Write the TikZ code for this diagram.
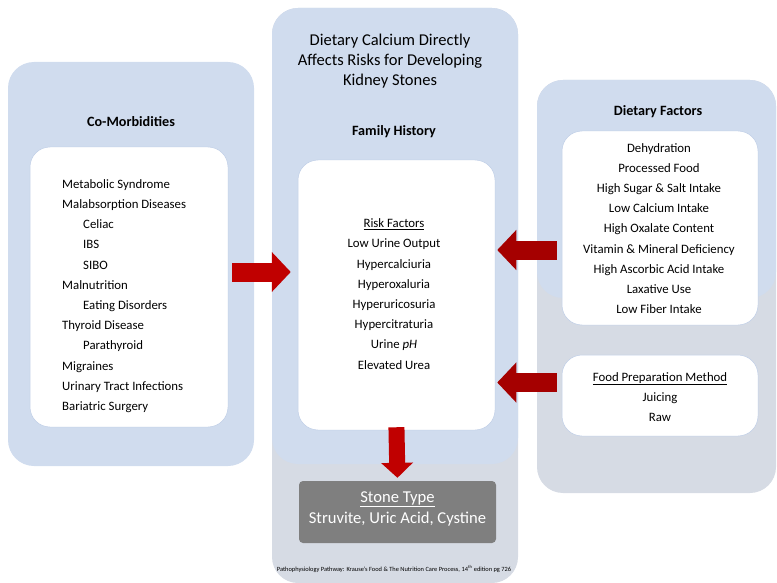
\documentclass[tikz,border=0pt]{standalone}
\usepackage{fontspec}
\setmainfont{Carlito}
\usetikzlibrary{arrows.meta}
\definecolor{panelblue}{RGB}{208,220,238}
\definecolor{panelgray}{RGB}{214,219,228}
\definecolor{boxedge}{RGB}{190,205,230}
\definecolor{arrowred}{RGB}{192,0,0}
\definecolor{arrowdark}{RGB}{165,0,0}
\definecolor{stonegray}{RGB}{127,127,127}
\tikzset{
  bluepanel/.style={fill=panelblue, draw=none, rounded corners=26pt, inner sep=0pt},
  graypanel/.style={fill=panelgray, draw=none, rounded corners=26pt, inner sep=0pt},
  whitebox/.style={fill=white, draw=boxedge, line width=0.5pt, rounded corners=20pt, inner sep=0pt},
  listtext/.style={font=\fontsize{12.8}{20.2}\selectfont, inner sep=0pt},
  headtext/.style={font=\fontsize{14.2}{16}\selectfont\bfseries, inner sep=0pt},
  redarrow/.style={draw=arrowred, line width=19pt, -{Triangle[length=19pt,width=39pt]}},
  darkarrow/.style={draw=arrowdark, line width=19pt, -{Triangle[length=19pt,width=39pt]}},
  downarrow/.style={draw=arrowred, line width=16pt, -{Triangle[length=15pt,width=31pt]}},
}
\begin{document}
\begin{tikzpicture}[x=1pt,y=-1pt]
\useasboundingbox (0,0) rectangle (777,583);
% background panels
\node[graypanel, minimum width=246pt, minimum height=575pt] (cgray) at (395,295.5) {};
\node[graypanel, minimum width=239pt, minimum height=413pt] (rgray) at (656.5,286.5) {};
\node[bluepanel, minimum width=246pt, minimum height=404pt] (lpanel) at (131,264) {};
\node[bluepanel, minimum width=246pt, minimum height=456pt] (cpanel) at (395,236) {};
\node[bluepanel, minimum width=239pt, minimum height=218pt] (rpanel) at (656.5,189) {};
% white boxes
\node[whitebox, minimum width=198pt, minimum height=280pt] (lwhite) at (129,287) {};
\node[whitebox, minimum width=197pt, minimum height=270pt] (cwhite) at (396.5,295) {};
\node[whitebox, minimum width=196pt, minimum height=194pt] (rwhite) at (660,228) {};
\node[whitebox, minimum width=196pt, minimum height=81pt] (fwhite) at (660,395.5) {};
\node[fill=stonegray, rounded corners=4pt, minimum width=197pt, minimum height=62pt, inner sep=0pt] (stone) at (397.5,512) {};
% headings
\node[headtext] (lhead) at (131,122) {Co-Morbidities};
\node[font=\fontsize{16.5}{20.2}\selectfont, align=center, inner sep=0pt] (title) at (390,61) {Dietary Calcium Directly\\Affects Risks for Developing\\Kidney Stones};
\node[headtext] (chead) at (394,132) {Family History};
\node[headtext] (rhead) at (658,112) {Dietary Factors};
% lists
\node[listtext, align=left, anchor=west] (llist) at (62,296) {Metabolic Syndrome\\Malabsorption Diseases\\\hspace*{21pt}Celiac\\\hspace*{21pt}IBS\\\hspace*{21pt}SIBO\\Malnutrition\\\hspace*{21pt}Eating Disorders\\Thyroid Disease\\\hspace*{21pt}Parathyroid\\Migraines\\Urinary Tract Infections\\Bariatric Surgery};
\node[listtext, align=center] (clist) at (394,294) {\underline{Risk Factors}\\Low Urine Output\\Hypercalciuria\\Hyperoxaluria\\Hyperuricosuria\\Hypercitraturia\\Urine \textit{pH}\\Elevated Urea};
\node[listtext, align=center] (rlist) at (659,228.5) {Dehydration\\Processed Food\\High Sugar \& Salt Intake\\Low Calcium Intake\\High Oxalate Content\\Vitamin \& Mineral Deficiency\\High Ascorbic Acid Intake\\Laxative Use\\Low Fiber Intake};
\node[listtext, align=center] (flist) at (660,397) {\underline{Food Preparation Method}\\Juicing\\Raw};
\node[font=\fontsize{16.6}{21}\selectfont, text=white, align=center, inner sep=0pt] (stonetext) at (397.5,509) {\underline{Stone Type}\\Struvite, Uric Acid, Cystine};
\node[font=\fontsize{6.4}{7}\selectfont, inner sep=0pt] (cite) at (394,569) {Pathophysiology Pathway: Krause's Food \& The Nutrition Care Process, 14\textsuperscript{th} edition pg 726};
% arrows
\coordinate (ya) at (0,272);
\coordinate (yb) at (0,250);
\coordinate (yc) at (0,382.5);
\draw[redarrow, shorten <=4pt, shorten >=7pt] (lwhite.east |- ya) -- (cwhite.west |- ya);
\draw[darkarrow, shorten <=5pt, shorten >=2pt] (rwhite.west |- yb) -- (cwhite.east |- yb);
\draw[darkarrow, shorten <=5pt, shorten >=2pt] (fwhite.west |- yc) -- (cwhite.east |- yc);
\draw[downarrow, shorten <=-3pt, shorten >=3pt] (cwhite.south) -- (stone.north);
\end{tikzpicture}
\end{document}
